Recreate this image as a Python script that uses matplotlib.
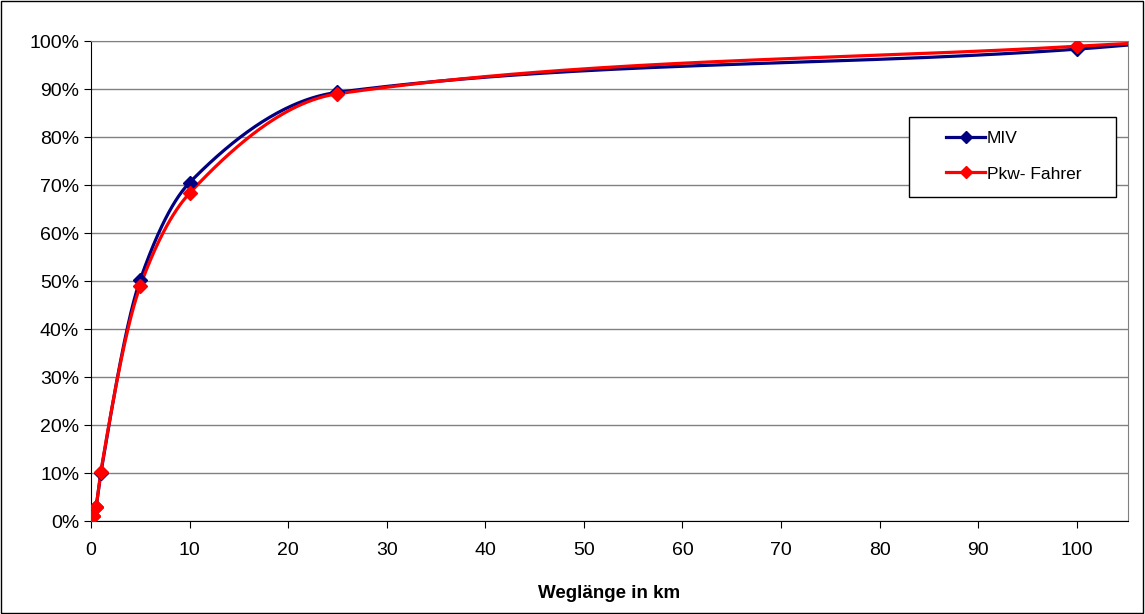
import numpy as np
import matplotlib.pyplot as plt
from matplotlib.ticker import PercentFormatter

# Data (x in km, y in %); last point lies beyond the visible range
weg_km = [0.2, 0.5, 1, 5, 10, 25, 100, 110]
miv = [1.0, 3.0, 10.0, 50.3, 70.5, 89.3, 98.3, 100.0]
pkw_fahrer = [1.0, 3.0, 10.3, 49.0, 68.3, 89.0, 98.9, 100.0]


def smooth(x, y, n=60):
    # monotone cubic (PCHIP) curve through the points, for the smoothed look
    x = np.asarray(x, float)
    y = np.asarray(y, float)
    h = np.diff(x)
    d = np.diff(y) / h
    m = np.zeros_like(y)
    for k in range(1, len(x) - 1):
        if d[k - 1] * d[k] > 0:
            w1 = 2 * h[k] + h[k - 1]
            w2 = h[k] + 2 * h[k - 1]
            m[k] = (w1 + w2) / (w1 / d[k - 1] + w2 / d[k])
    m[0] = d[0]
    m[-1] = d[-1]
    xs, ys = [], []
    t = np.linspace(0, 1, n)
    for k in range(len(x) - 1):
        h00 = 2 * t**3 - 3 * t**2 + 1
        h10 = t**3 - 2 * t**2 + t
        h01 = -2 * t**3 + 3 * t**2
        h11 = t**3 - t**2
        xs.append(x[k] + t * h[k])
        ys.append(h00 * y[k] + h10 * h[k] * m[k] + h01 * y[k + 1] + h11 * h[k] * m[k + 1])
    return np.concatenate(xs), np.concatenate(ys)


plt.rcParams['font.family'] = ['Liberation Sans', 'DejaVu Sans']

fig = plt.figure(figsize=(11.45, 6.14), dpi=100)
ax = fig.add_axes([91 / 1145, 93 / 614, 1037 / 1145, 480 / 614])

# figure frame
fig.patches.append(plt.Rectangle((0.0005, 0.001), 0.998, 0.997, transform=fig.transFigure,
                                 fill=False, edgecolor="black", linewidth=1))

series = [("MIV", miv, "#000080"), ("Pkw- Fahrer", pkw_fahrer, "#FF0000")]
for name, vals, col in series:
    sx, sy = smooth(weg_km, vals)
    ax.plot(sx, sy, color=col, linewidth=2.3, zorder=3)
    ax.plot(weg_km, vals, linestyle="none", marker="D", markersize=7, color=col, zorder=4)
    ax.plot([], [], color=col, linewidth=2.3, marker="D", markersize=6, label=name)

ax.set_xlim(0, 105.2)
ax.set_ylim(0, 100)
ax.set_xticks(np.arange(0, 101, 10))
ax.set_yticks(np.arange(0, 101, 10))
ax.yaxis.set_major_formatter(PercentFormatter(decimals=0))
ax.tick_params(axis="both", labelsize=14, direction="out", length=5, color="black")
ax.tick_params(axis="x", pad=10)
ax.grid(axis="y", color="#808080", linewidth=1)
ax.set_axisbelow(True)
for s in ["top", "right"]:
    ax.spines[s].set_color("#808080")
ax.spines["left"].set_color("black")
ax.spines["bottom"].set_color("black")

ax.set_xlabel("Weglänge in km", fontsize=13.5, fontweight="bold", labelpad=19)

# legend box drawn as a rectangle, entries without frame
fig.patches.append(plt.Rectangle((909 / 1145, 1 - 197 / 614), 207 / 1145, 80 / 614,
                                 transform=fig.transFigure, facecolor="white",
                                 edgecolor="black", linewidth=1, zorder=5))
leg = fig.legend(loc="center left", bbox_to_anchor=(946 / 1145, 1 - 156 / 614),
                 fontsize=12.5, frameon=False, handlelength=2.25, labelspacing=1.2,
                 borderpad=0, borderaxespad=0, handletextpad=0.1)
leg.set_zorder(6)

plt.savefig("out.png", dpi=100)
